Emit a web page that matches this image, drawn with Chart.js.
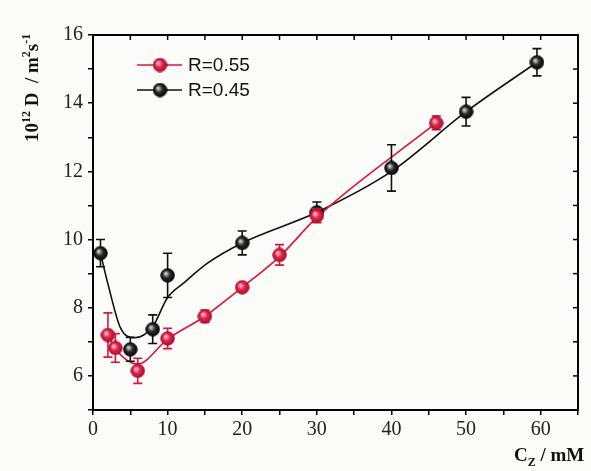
<!DOCTYPE html>
<html>
<head>
<meta charset="utf-8">
<script src="https://cdn.jsdelivr.net/npm/chart.js@4.4.0/dist/chart.umd.min.js"></script>
<style>
  html, body { margin: 0; padding: 0; background: #fbfbfa; }
  #wrap { width: 591px; height: 471px; position: relative; }
</style>
</head>
<body>
<div id="wrap"><canvas id="c" width="591" height="471"></canvas></div>
<script>
// R = 0.55 (red) measured points, error bars and fitted curve
const xR55 = [2, 3, 6, 10, 15, 20, 25, 30, 46];
const yR55 = [7.2, 6.82, 6.15, 7.1, 7.75, 8.6, 9.55, 10.7, 13.42];
const eR55 = [0.65, 0.42, 0.37, 0.3, 0.18, 0.08, 0.3, 0.2, 0.2];
const fitXR55 = [2, 3, 6, 10, 15, 20, 25, 30, 46];
const fitYR55 = [7.2, 6.8, 6.35, 7.08, 7.75, 8.6, 9.5, 10.65, 13.42];

// R = 0.45 (black)
const xR45 = [1, 5, 8, 10, 20, 30, 40, 50, 59.5];
const yR45 = [9.6, 6.78, 7.37, 8.95, 9.9, 10.8, 12.1, 13.75, 15.2];
const eR45 = [0.4, 0.35, 0.42, 0.65, 0.35, 0.3, 0.68, 0.42, 0.4];
const fitXR45 = [1, 2, 3.7, 5.6, 8, 10, 12.3, 15.3, 20, 30, 40, 50, 59.5];
const fitYR45 = [9.6, 8.7, 7.4, 7.12, 7.45, 8.3, 8.75, 9.3, 9.9, 10.8, 12.0, 13.75, 15.2];

const seriesNames = ['R=0.55', 'R=0.45'];
const xLabels = [0, 10, 20, 30, 40, 50, 60];
const yLabels = [6, 8, 10, 12, 14, 16];

const RED = '#d8173f';
const BLACK = '#111111';
const SERIF = '"Liberation Serif", "DejaVu Serif", serif';
const SANS = '"Liberation Sans", Arial, sans-serif';

function pts(xs, ys){
  return xs.map(function(x, i){ return { x: x, y: ys[i] }; });
}

// shaded ball marker
function ball(light, mid, dark){
  const c = document.createElement('canvas');
  c.width = 15; c.height = 15;
  const g = c.getContext('2d');
  const grad = g.createRadialGradient(5.5, 5.5, 0.5, 7.5, 7.5, 7.5);
  grad.addColorStop(0, light);
  grad.addColorStop(0.45, mid);
  grad.addColorStop(1, dark);
  g.fillStyle = grad;
  g.beginPath();
  g.arc(7.5, 7.5, 6.8, 0, Math.PI * 2);
  g.fill();
  g.strokeStyle = dark;
  g.lineWidth = 0.8;
  g.stroke();
  return c;
}
const redBall = ball('#ffc4cf', '#e2244c', '#9c0e2c');
const blackBall = ball('#d8d8d8', '#2a2a2a', '#000000');

const errorBars = {
  id: 'errorBars',
  beforeDatasetDraw(chart, args){
    const ds = chart.data.datasets[args.index];
    if (!ds.errs) return;
    const ctx = chart.ctx;
    const ys = chart.scales.y;
    const meta = args.meta;
    ctx.save();
    ctx.strokeStyle = ds.errColor;
    ctx.lineWidth = 1.6;
    meta.data.forEach(function(pt, i){
      const v = ds.data[i].y, e = ds.errs[i];
      const top = ys.getPixelForValue(v + e);
      const bot = ys.getPixelForValue(v - e);
      ctx.beginPath();
      ctx.moveTo(pt.x, top); ctx.lineTo(pt.x, bot);
      ctx.moveTo(pt.x - 4.5, top); ctx.lineTo(pt.x + 4.5, top);
      ctx.moveTo(pt.x - 4.5, bot); ctx.lineTo(pt.x + 4.5, bot);
      ctx.stroke();
    });
    ctx.restore();
  }
};

function drawRich(ctx, parts, x, y, size){
  // parts: [text, kind] kind: 'n' normal, 'sup', 'sub'
  let cx = x;
  parts.forEach(function(p){
    const small = p[1] !== 'n';
    ctx.font = 'bold ' + (small ? Math.round(size * 0.62) : size) + 'px ' + SERIF;
    const dy = p[1] === 'sup' ? -size * 0.42 : (p[1] === 'sub' ? size * 0.25 : 0);
    ctx.fillText(p[0], cx, y + dy);
    cx += ctx.measureText(p[0]).width;
  });
}

const frame = {
  id: 'frame',
  afterDraw(chart){
    const ctx = chart.ctx;
    const a = chart.chartArea;
    const xs = chart.scales.x, ys = chart.scales.y;
    ctx.save();
    ctx.strokeStyle = '#000';
    ctx.lineWidth = 2;
    ctx.strokeRect(a.left, a.top, a.right - a.left, a.bottom - a.top);
    // mirrored inward ticks on top and right
    ctx.lineWidth = 1.5;
    xs.ticks.forEach(function(t){
      const px = xs.getPixelForValue(t.value);
      ctx.beginPath(); ctx.moveTo(px, a.top); ctx.lineTo(px, a.top + 5); ctx.stroke();
    });
    ys.ticks.forEach(function(t){
      const py = ys.getPixelForValue(t.value);
      ctx.beginPath(); ctx.moveTo(a.right, py); ctx.lineTo(a.right - 5, py); ctx.stroke();
    });

    // legend inside plot
    const rows = [[redBall, RED, seriesNames[0], 65], [blackBall, BLACK, seriesNames[1], 90]];
    rows.forEach(function(r){
      ctx.strokeStyle = r[1];
      ctx.lineWidth = 1.6;
      ctx.beginPath(); ctx.moveTo(137, r[3]); ctx.lineTo(182, r[3]); ctx.stroke();
      ctx.drawImage(r[0], 160 - 7.5, r[3] - 7.5);
      ctx.fillStyle = '#111';
      ctx.font = '19px ' + SANS;
      ctx.textBaseline = 'middle';
      ctx.textAlign = 'left';
      ctx.fillText(r[2], 188, r[3] + 1);
    });

    // axis titles
    ctx.fillStyle = '#111';
    ctx.textBaseline = 'alphabetic';
    ctx.save();
    ctx.translate(38, 142);
    ctx.rotate(-Math.PI / 2);
    drawRich(ctx, [['10', 'n'], ['12', 'sup'], [' D  / m', 'n'], ['2', 'sup'], ['s', 'n'], ['-1', 'sup']], 0, 0, 19);
    ctx.restore();
    drawRich(ctx, [['C', 'n'], ['Z', 'sub'], [' / mM', 'n']], 514, 461, 19);
    ctx.restore();
  }
};

new Chart(document.getElementById('c'), {
  type: 'scatter',
  data: {
    datasets: [
      { label: seriesNames[0], data: pts(xR55, yR55), errs: eR55, errColor: RED,
        pointStyle: redBall, pointRadius: 7, showLine: false },
      { label: seriesNames[1], data: pts(xR45, yR45), errs: eR45, errColor: BLACK,
        pointStyle: blackBall, pointRadius: 7, showLine: false },
      { label: 'fit55', data: pts(fitXR55, fitYR55), showLine: true, pointRadius: 0,
        borderColor: RED, borderWidth: 1.6, cubicInterpolationMode: 'monotone' },
      { label: 'fit45', data: pts(fitXR45, fitYR45), showLine: true, pointRadius: 0,
        borderColor: BLACK, borderWidth: 1.6, cubicInterpolationMode: 'monotone' }
    ]
  },
  options: {
    responsive: false,
    animation: false,
    layout: { padding: { top: 35, right: 13, left: 0, bottom: 0 } },
    plugins: { legend: { display: false }, tooltip: { enabled: false } },
    scales: {
      x: {
        type: 'linear', min: 0, max: 65,
        afterFit(s){ s.height = 61; },
        border: { color: '#000', width: 2 },
        grid: { drawOnChartArea: false, tickLength: 5, color: '#000', lineWidth: 1.5 },
        ticks: {
          stepSize: 5, padding: 3, color: '#222', maxRotation: 0, autoSkip: false,
          font: { family: SERIF, size: 20 },
          callback(v){ return xLabels.indexOf(v) >= 0 ? String(v) : ''; }
        }
      },
      y: {
        type: 'linear', min: 5, max: 16,
        afterFit(s){ s.width = 93; },
        border: { color: '#000', width: 2 },
        grid: { drawOnChartArea: false, tickLength: 5, color: '#000', lineWidth: 1.5 },
        ticks: {
          stepSize: 1, padding: 5, color: '#222', autoSkip: false,
          font: { family: SERIF, size: 20 },
          callback(v){ return yLabels.indexOf(v) >= 0 ? String(v) : ''; }
        }
      }
    }
  },
  plugins: [errorBars, frame]
});
</script>
</body>
</html>
